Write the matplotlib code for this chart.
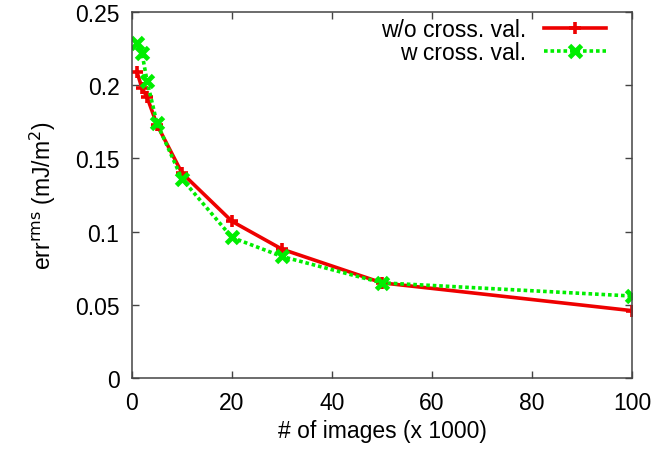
import numpy as np
import matplotlib.pyplot as plt

# data
n_images = [1, 2, 3, 5, 10, 20, 30, 50, 100]
err_no_cv = [0.209, 0.198, 0.192, 0.173, 0.140, 0.107, 0.088, 0.065, 0.046]
err_cv = [0.229, 0.222, 0.203, 0.174, 0.136, 0.096, 0.083, 0.065, 0.056]

plt.rcParams['font.family'] = ['Liberation Sans', 'DejaVu Sans']

fig = plt.figure(figsize=(6.57, 4.52), dpi=100)
ax = fig.add_axes([0.2009, 0.1615, 0.761, 0.8097])

ax.plot(n_images, err_no_cv, color='#ee0000', lw=2.6, marker='+', ms=9, mew=2.6,
        label='w/o cross. val.')
ax.plot(n_images, err_cv, color='#00ee00', lw=2.6, ls=(0, (1, 0.8)), marker='x', ms=8, mew=3.5,
        label='w cross. val.')

ax.set_xlim(0, 100)
ax.set_ylim(0, 0.25)
ax.set_xticks([0, 20, 40, 60, 80, 100])
ax.set_yticks([0, 0.05, 0.1, 0.15, 0.2, 0.25])
ax.set_yticklabels(['0', '0.05', '0.1', '0.15', '0.2', '0.25'])
ax.tick_params(direction='in', top=True, right=True, labelsize=16.5, length=5, width=1, color='#444444')
ax.tick_params(axis='y', pad=9)
ax.tick_params(axis='x', pad=9)
for s in ax.spines.values():
    s.set_linewidth(1.1)
    s.set_color('#444444')

ax.set_xlabel('# of images (x 1000)', fontsize=16.5, labelpad=4)
ax.set_ylabel(r'err$^{\rm rms}$ (mJ/m$^2$)', fontsize=16.5, labelpad=12)

ax.legend(loc='upper right', bbox_to_anchor=(0.96, 1.0), frameon=False, markerfirst=False,
          fontsize=16.5, handlelength=2.7, handletextpad=0.8, borderaxespad=0,
          borderpad=0.25, labelspacing=0.0)

fig.savefig('out.png', dpi=100)
